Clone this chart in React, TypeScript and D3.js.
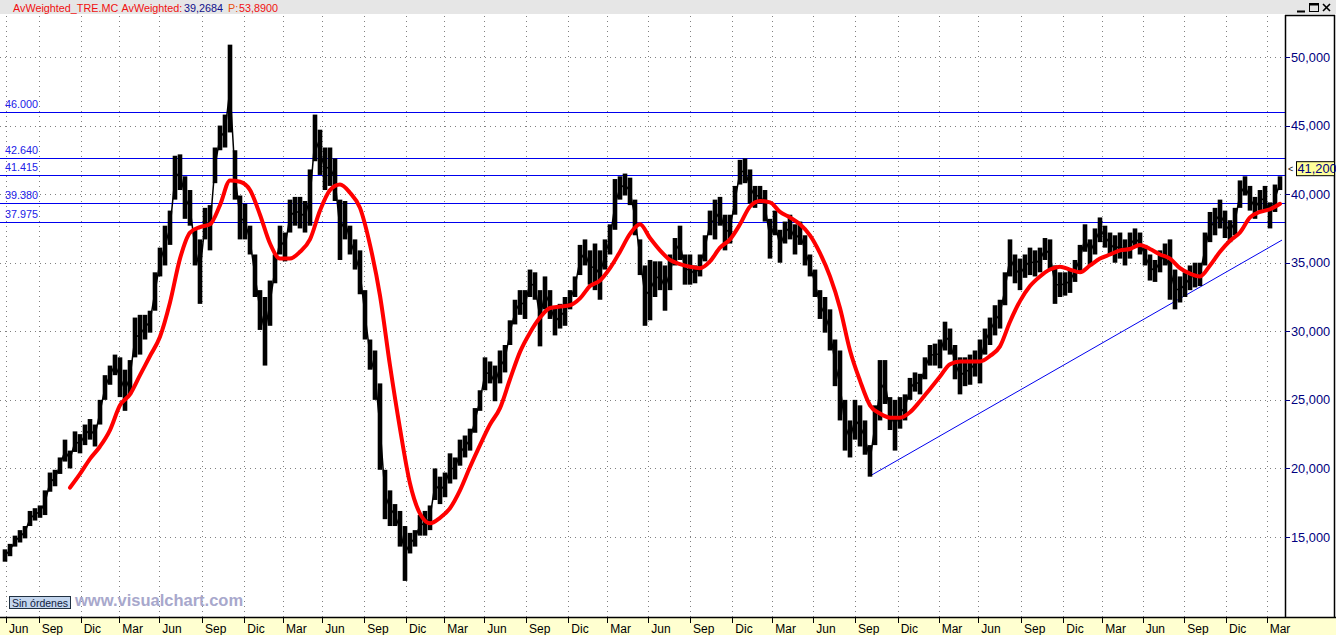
import React from 'react';
import * as d3 from 'd3';

// ---- Data (prices in euros), one sample per column of the chart ----
const hi = [
  14.1, 14.5, 15.1, 15.5, 15.8, 16.9, 17.1, 17.3, 18.4, 19.7,
  19.9, 20.8, 22.1, 21.3, 22.7, 22.5, 23.2, 23.6, 23.2, 25.0,
  26.8, 27.5, 28.3, 28.1, 27.2, 27.9, 31.0, 31.2, 31.2, 31.5,
  34.3, 36.1, 37.7, 38.8, 42.8, 42.9, 41.3, 40.3, 37.4, 36.7,
  39.0, 39.2, 43.4, 45.0, 45.8, 50.9, 43.2, 39.9, 39.3, 37.7,
  35.6, 33.0, 32.5, 33.7, 35.6, 37.7, 37.2, 39.6, 39.8, 39.8,
  39.5, 41.8, 45.8, 44.7, 43.4, 43.4, 42.6, 39.6, 39.5, 37.7,
  36.7, 35.9, 33.0, 29.4, 28.6, 26.2, 19.9, 18.4, 17.4, 16.9,
  15.8, 15.3, 15.5, 16.6, 16.9, 17.3, 20.0, 19.4, 19.7, 21.1,
  20.8, 22.1, 22.4, 22.9, 24.4, 25.7, 28.1, 27.8, 27.5, 28.6,
  29.0, 30.8, 32.3, 33.0, 33.0, 34.5, 34.3, 33.0, 34.0, 33.0,
  31.7, 32.0, 32.5, 33.0, 34.0, 36.3, 36.7, 35.9, 36.4, 35.9,
  36.7, 37.8, 41.1, 41.3, 41.5, 41.2, 39.6, 36.7, 34.8, 35.2,
  35.1, 35.1, 34.8, 35.6, 36.8, 37.7, 35.6, 35.6, 34.8, 35.6,
  37.0, 38.8, 39.6, 39.8, 38.5, 38.5, 40.6, 42.5, 42.6, 41.8,
  40.6, 40.6, 40.3, 38.2, 38.8, 37.4, 38.0, 38.5, 37.8, 38.0,
  37.0, 35.6, 34.5, 33.0, 32.5, 31.6, 29.4, 28.6, 25.0, 23.5,
  25.0, 24.6, 23.5, 21.7, 24.6, 27.9, 27.9, 25.2, 25.0, 25.2,
  25.4, 26.6, 27.0, 26.9, 28.1, 29.0, 29.1, 29.4, 30.7, 30.2,
  29.0, 28.1, 28.1, 28.3, 28.6, 29.4, 30.2, 31.0, 31.9, 32.3,
  34.3, 36.7, 35.6, 35.3, 35.6, 36.1, 35.9, 36.1, 36.8, 36.7,
  34.8, 34.3, 34.3, 34.5, 35.2, 36.3, 37.8, 36.7, 37.5, 38.3,
  37.7, 37.2, 37.0, 37.2, 36.7, 37.2, 37.5, 37.2, 36.3, 35.6,
  35.2, 35.9, 36.4, 36.7, 34.5, 34.0, 34.3, 34.8, 35.0, 35.0,
  37.2, 38.7, 39.0, 39.6, 38.8, 38.1, 39.0, 41.0, 41.3, 40.6,
  39.8, 40.3, 40.6, 39.4, 40.7, 41.3,
];
const lo = [
  13.2, 13.6, 14.3, 14.6, 14.9, 15.8, 16.2, 16.4, 16.6, 18.3,
  18.7, 19.6, 20.5, 20.0, 21.2, 21.1, 21.7, 22.1, 21.6, 23.2,
  25.0, 26.1, 26.8, 25.2, 24.2, 25.4, 28.1, 28.3, 29.4, 29.9,
  31.5, 34.0, 34.8, 36.3, 39.6, 40.3, 38.2, 37.7, 34.8, 32.0,
  36.7, 35.9, 40.8, 43.2, 43.4, 44.5, 39.6, 36.7, 36.7, 35.6,
  32.5, 30.1, 27.5, 30.4, 33.5, 35.6, 35.1, 37.2, 37.7, 37.5,
  37.2, 37.7, 42.4, 41.4, 40.3, 40.6, 39.5, 35.2, 36.7, 35.6,
  34.5, 32.7, 29.4, 27.2, 25.0, 19.9, 16.3, 15.8, 15.8, 14.3,
  11.8, 13.8, 14.3, 15.1, 15.1, 15.5, 17.7, 17.4, 17.9, 18.9,
  19.2, 20.2, 20.8, 21.3, 22.6, 24.2, 25.7, 26.2, 24.9, 26.2,
  27.0, 29.0, 30.5, 31.2, 30.9, 32.5, 32.3, 28.9, 31.6, 30.9,
  29.7, 30.2, 30.4, 31.6, 32.5, 34.1, 34.8, 33.4, 33.0, 32.3,
  34.5, 35.6, 37.4, 39.6, 39.9, 39.2, 37.0, 34.1, 30.4, 30.8,
  32.5, 33.0, 31.5, 33.0, 34.8, 35.2, 33.4, 33.4, 33.5, 34.0,
  35.1, 37.0, 36.7, 37.7, 35.9, 36.4, 38.5, 40.7, 40.8, 39.3,
  39.0, 39.3, 38.0, 35.3, 37.0, 35.0, 36.4, 36.7, 35.6, 36.3,
  34.8, 34.0, 32.5, 30.9, 29.9, 28.6, 26.0, 23.5, 21.3, 20.8,
  22.1, 21.6, 21.0, 19.4, 21.7, 23.5, 24.7, 22.8, 21.3, 22.9,
  23.5, 25.0, 25.6, 25.4, 26.5, 27.5, 27.5, 27.3, 28.6, 28.3,
  26.5, 25.4, 26.0, 26.1, 26.7, 26.2, 28.3, 29.0, 29.7, 30.2,
  31.9, 34.0, 33.5, 33.0, 33.9, 34.1, 34.0, 34.3, 35.2, 34.5,
  32.0, 32.5, 32.6, 32.8, 33.6, 34.3, 35.8, 34.8, 35.6, 36.5,
  36.1, 35.6, 35.0, 35.3, 34.8, 35.3, 36.1, 35.6, 34.8, 33.7,
  33.6, 34.3, 34.8, 32.3, 31.6, 32.1, 32.5, 33.0, 33.2, 33.3,
  34.8, 36.5, 37.0, 37.5, 36.8, 36.5, 37.0, 39.0, 39.9, 38.8,
  38.2, 38.8, 38.8, 37.5, 38.7, 40.3,
];
// weighted average, one value every 2 samples starting at sample 13
const wmaStart = 13;
const wmaStep = 2;
const wma = [
  18.6, 19.6, 20.7, 21.6, 22.8, 24.6, 25.4, 26.8, 28.2, 29.6,
  32.1, 35.3, 37.2, 37.6, 37.8, 39.2, 41.0, 40.9, 40.3, 38.5,
  36.4, 35.3, 35.3, 35.8, 36.7, 38.8, 40.3, 40.7, 40.1, 39.0,
  36.3, 32.6, 27.5, 22.9, 18.9, 16.7, 16.0, 16.4, 17.1, 18.4,
  20.1, 21.7, 23.2, 24.4, 26.5, 28.5, 29.9, 31.0, 31.7, 31.8,
  31.9, 32.4, 33.3, 33.7, 34.6, 35.8, 37.1, 37.8, 36.8, 35.9,
  35.2, 34.9, 34.7, 34.6, 35.1, 36.1, 36.7, 37.8, 39.1, 39.5,
  39.4, 38.7, 38.3, 37.8, 37.0, 35.7, 34.0, 31.7, 28.6, 26.4,
  24.6, 24.0, 23.7, 23.7, 24.1, 24.9, 25.8, 26.7, 27.6, 27.8,
  27.8, 27.8, 28.2, 28.9, 30.7, 32.2, 33.3, 34.0, 34.5, 34.7,
  34.5, 34.3, 34.8, 35.3, 35.6, 35.9, 36.0, 36.3, 36.0, 35.6,
  35.3, 34.6, 34.2, 34.0, 34.8, 35.8, 36.6, 37.2, 38.3, 38.7,
  38.9, 39.3,
];
const levels = [46.0, 42.64, 41.415, 39.38, 37.975];
const levelLabels = ['46.000', '42.640', '41.415', '39.380', '37.975'];
const tickIdx = [
  0.2, 6.74, 15.14, 22.86, 30.86, 39.4, 47.86, 55.6, 63.46, 71.86, 80.2,
  87.86, 95.86, 104.2, 112.66, 120.46, 128.66, 137, 145.46, 153.46, 161.66,
  170, 178.54, 186.74, 194.66, 203.2, 211.66, 219.46, 227.54, 235.86, 244.2, 252.34,
];
const tickLabels = [
  'Jun', 'Sep', 'Dic', 'Mar', 'Jun', 'Sep', 'Dic', 'Mar', 'Jun', 'Sep', 'Dic',
  'Mar', 'Jun', 'Sep', 'Dic', 'Mar', 'Jun', 'Sep', 'Dic', 'Mar', 'Jun',
  'Sep', 'Dic', 'Mar', 'Jun', 'Sep', 'Dic', 'Mar', 'Jun', 'Sep', 'Dic', 'Mar',
];
const yTicks = [15, 20, 25, 30, 35, 40, 45, 50];
const lastPrice = 41.2;
const trendIdx = [173, 255.4];
const trendVal = [19.45, 36.65];

const W = 1336;
const H = 635;
const plotR = 1285;
const plotT = 14;
const plotB = 617;
const FONT = '"Liberation Sans", Arial, sans-serif';

export default function App() {
  const x = d3.scaleLinear().domain([-1, 256]).range([0, plotR]);
  const y = d3.scaleLinear().domain([15, 50]).range([537, 57]);
  const fmt = (v: number) => v.toFixed(3).replace('.', ',');

  const wmaPts: [number, number][] = wma.map((v, j) => [x(wmaStart + j * wmaStep), y(v)]);
  const wmaPath = d3.line().curve(d3.curveMonotoneX)(wmaPts) || '';
  const midPath = d3.line()(hi.map((h, i) => [x(i), (y(h) + y(lo[i])) / 2]) as [number, number][]) || '';

  return (
    <svg width={W} height={H} style={{ position: 'absolute', left: 0, top: 0, display: 'block' }}
      fontFamily={FONT}>
      <defs>
        <clipPath id="plot">
          <rect x={0} y={plotT} width={plotR} height={plotB - plotT} />
        </clipPath>
      </defs>
      <rect x={0} y={0} width={W} height={H} fill="#ffffff" />
      {/* header */}
      <rect x={0} y={0} width={W} height={plotT} fill="#e6e6e6" />
      <text y={11.5} fontSize={10.8}>
        <tspan x={13} fill="#f01010">AvWeighted_TRE.MC</tspan>
        <tspan x={121.5} fill="#f01010">AvWeighted:</tspan>
        <tspan x={184} fill="#10108a">39,2684</tspan>
        <tspan x={228} fill="#e85010">P:</tspan>
        <tspan x={239} fill="#f01010">53,8900</tspan>
      </text>
      {/* window buttons */}
      <g stroke="#000" fill="none">
        <line x1={1297} y1={11.5} x2={1305} y2={11.5} strokeWidth={2} />
        <rect x={1309.5} y={3.5} width={9} height={8} strokeWidth={1} />
        <line x1={1309.5} y1={4.5} x2={1318.5} y2={4.5} strokeWidth={2} />
        <line x1={1323} y1={4} x2={1330} y2={11} strokeWidth={1.6} />
        <line x1={1330} y1={4} x2={1323} y2={11} strokeWidth={1.6} />
      </g>

      {/* grid */}
      <g stroke="#808080" strokeWidth={1} strokeDasharray="1,4">
        {tickIdx.map((t, k) => (
          <line key={'vg' + k} x1={Math.round(x(t)) + 0.5} x2={Math.round(x(t)) + 0.5} y1={plotT + 2} y2={plotB} />
        ))}
        {yTicks.map((v) => (
          <line key={'hg' + v} x1={0} x2={plotR} y1={Math.round(y(v)) + 0.5} y2={Math.round(y(v)) + 0.5} />
        ))}
      </g>

      <g clipPath="url(#plot)">
        {/* horizontal levels */}
        {levels.map((v, k) => (
          <g key={'lv' + k}>
            <line x1={0} x2={plotR} y1={Math.round(y(v)) + 0.5} y2={Math.round(y(v)) + 0.5}
              stroke="#0000ee" strokeWidth={1} />
            <text x={5} y={y(v) - 4} fontSize={10.8} fill="#2020e8">{levelLabels[k]}</text>
          </g>
        ))}
        {/* trend line */}
        <line x1={x(trendIdx[0])} y1={y(trendVal[0])} x2={x(trendIdx[1])} y2={y(trendVal[1])}
          stroke="#0000ee" strokeWidth={1} />
        {/* price bars */}
        <g fill="#000">
          {hi.map((h, i) => (
            <rect key={'b' + i} x={x(i) - 2.3} width={4.6} y={y(h)} height={Math.max(1, y(lo[i]) - y(h))} />
          ))}
        </g>
        <path d={midPath} fill="none" stroke="#000" strokeWidth={1.5} />
        {/* weighted average */}
        <path d={wmaPath} fill="none" stroke="#ff0000" strokeWidth={4} strokeLinejoin="round" strokeLinecap="round" />
      </g>

      {/* watermark + button */}
      <rect x={9.5} y={596.5} width={61} height={12} fill="#c4d6ee" stroke="#203040" strokeWidth={1} />
      <text x={12} y={606.5} fontSize={10.5} fill="#102040">Sin órdenes</text>
      <text x={75} y={606} fontSize={16.5} fontWeight="bold" fill="#a8a8cc">www.visualchart.com</text>

      {/* right axis panel */}
      <g>
        <line x1={plotR + 0.5} x2={plotR + 0.5} y1={plotT + 1} y2={plotB} stroke="#000" strokeWidth={1.5} />
        <line x1={W - 1.5} x2={W - 1.5} y1={plotT + 1} y2={plotB} stroke="#000" strokeWidth={1.5} />
        <line x1={plotR} x2={W - 1} y1={plotT + 1.5} y2={plotT + 1.5} stroke="#000" strokeWidth={1.5} />
        {yTicks.map((v) => (
          <g key={'yt' + v}>
            <line x1={plotR} x2={plotR + 5} y1={Math.round(y(v)) + 0.5} y2={Math.round(y(v)) + 0.5} stroke="#000080" strokeWidth={1} />
            <text x={plotR + 6} y={y(v) + 4.5} fontSize={12.8} fill="#000080">{fmt(v)}</text>
          </g>
        ))}
        <rect x={1296.5} y={y(lastPrice) - 16} width={38} height={14} fill="#ffff99" stroke="#000" strokeWidth={1} />
        <text x={1288} y={y(lastPrice) - 5.5} fontSize={9} fill="#000">&lt;</text>
        <text x={1297.5} y={y(lastPrice) - 4.5} fontSize={12.8} fill="#000080">{fmt(lastPrice)}</text>
      </g>

      {/* bottom axis */}
      <rect x={0} y={plotB + 1} width={W} height={H - plotB - 1} fill="#ffffd0" />
      <line x1={0} x2={W} y1={plotB + 0.5} y2={plotB + 0.5} stroke="#000" strokeWidth={1.5} />
      {tickIdx.map((t, k) => (
        <g key={'xt' + k}>
          <line x1={Math.round(x(t)) + 0.5} x2={Math.round(x(t)) + 0.5} y1={plotB} y2={plotB + 6} stroke="#000" strokeWidth={1} />
          <text x={x(t) + 3} y={632.5} fontSize={12} fill="#000">{tickLabels[k]}</text>
        </g>
      ))}
    </svg>
  );
}
